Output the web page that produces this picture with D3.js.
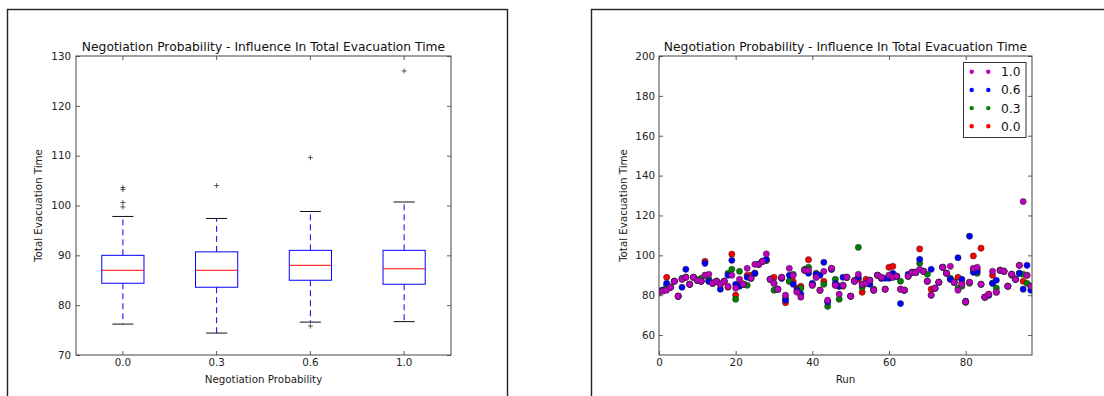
<!DOCTYPE html>
<html>
<head>
<meta charset="utf-8">
<script src="https://cdn.jsdelivr.net/npm/d3@7"></script>
<style>
  html, body { margin: 0; padding: 0; background: #fff; }
  svg { display: block; font-family: "DejaVu Sans", sans-serif; }
</style>
</head>
<body>
<div id="chart"></div>
<script>
// Box plot (left): stats
const boxCats = ["0.0", "0.3", "0.6", "1.0"];
const boxQ1 = [84.4, 83.6, 85.0, 84.2];
const boxMedian = [87.0, 87.0, 88.0, 87.3];
const boxQ3 = [90.0, 90.7, 91.0, 91.0];
const whiskerLow = [76.2, 74.4, 76.6, 76.7];
const whiskerHigh = [97.8, 97.4, 98.8, 100.7];
const fliers = [[103.6, 103.2, 100.6, 99.7], [104.0], [109.6, 75.8], [127.0]];
const boxYTicks = [70, 80, 90, 100, 110, 120, 130];

// Scatter (right): total evacuation time per run, one array per probability
const time00 = [82,82.5,89,84,87,79.5,88,89,85.5,89, 87.5,87,97,87,86,87,85.5,87,84,100.6,
  80,86,85.5,90,90,91,95.5,97,97.5,88, 89,83,88.5,76.2,87,87,83.5,84.5,92.5,97.8,
  85.5,89,82.5,87,77,93,85,84.5,84.5,89, 79.5,87.5,88,81.5,88,87.5,82.5,90,88.5,83,
  94,94.5,89.5,83,82.5,89.5,91.5,91.5,103.2,92, 87,83,83.5,86.5,94,91,88,86.5,89,86,
  76.5,86.5,99.7,93,103.6,79,80.5,90,81.5,92.5, 92,84.5,90.5,88,95,87,90,84.5];
const time03 = [82,82.5,85,84,87,79.5,88.5,89,85.5,89, 87.5,88.5,90,88,86,87,85.5,87,91,93,
  78,92,85.5,85,88.5,91,95.5,97,97.4,88, 82.5,83,89,78.5,87,90.5,82,83.5,93,94,
  85,91,82.5,85.5,74.4,93.5,88,78,85,89, 79.5,87,104,84,86,87.5,83,90,89,83,
  90,89,89.5,87,82.5,89.5,91.5,91.5,96,92, 90.5,80,83.5,86.5,94,91,88.5,86.5,83.5,84.5,
  76.5,86,93,91,85.5,79,80,86,83.5,92.5, 92,84.5,90,88,91,90.5,86,84.5];
const time06 = [82,82.5,86,84,87,79.5,84,93,85.5,89, 87.5,87,96,87,86,87,83,87,90,97.5,
  85.5,84.5,85.5,89,88.5,91,95.5,97,98,88, 86,83,88.5,77.5,90,85.5,82.5,80.5,92.5,91,
  86,90.5,90,96.5,76.6,93,86,84.5,89,89, 79.5,87,89,85.5,86,85.5,82.5,90,88.5,88.5,
  88.5,91,89.5,75.8,82.5,90.5,91.5,91.5,98,92, 87,93,83.5,86.5,94,91,88,86.5,98.8,88,
  77,109.6,91.5,92,85.5,79,80,86,87.5,92.5, 92,84.5,90.5,88,91,83,95,82.5];
const time10 = [81.5,82,82.5,84,87,79.5,88,89,85.5,89, 87.5,87,90,90.5,86,87,85.5,87,84.5,90,
  83.5,88,85.5,93.5,88.5,95.5,95.5,97,100.7,88, 86,83,89,80,93.5,90,81.5,79,92.5,92.5,
  85,89,82.5,92,77.5,93.5,85,80.5,85,89, 79.5,87,90.5,85.5,86,87.5,82.5,90,89,83,
  90,89,89.5,83,82.5,89.5,91.5,91.5,93,92, 87,80,83.5,86.5,94,91,94.5,86.5,82.5,85.5,
  76.7,86.5,93.5,94,85.5,79,80.5,92,81.5,92.5, 92,84.5,90.5,88,95,127,90,84.5];
const seriesNames = ["0.0", "0.3", "0.6", "1.0"];
const seriesColors = ["#ff0000", "#008000", "#0000ff", "#bf00bf"];
const legendOrder = ["1.0", "0.6", "0.3", "0.0"];
const runXTicks = [0, 20, 40, 60, 80];
const runYTicks = [60, 80, 100, 120, 140, 160, 180, 200];

const titleText = "Negotiation Probability - Influence In Total Evacuation Time";
const W = 1104, H = 396;
const tickFont = "10.3px", labelFont = "10.3px", titleFont = "12.3px";

const svg = d3.select("#chart").append("svg")
  .attr("width", W).attr("height", H);
svg.append("rect").attr("width", W).attr("height", H).attr("fill", "#fff");

// figure borders (both figures run past the bottom of the window)
svg.append("rect").attr("x", 7.5).attr("y", 9.5).attr("width", 500).attr("height", 420)
  .attr("fill", "none").attr("stroke", "#222").attr("stroke-width", 1.4);
svg.append("rect").attr("x", 591.5).attr("y", 9.5).attr("width", 600).attr("height", 420)
  .attr("fill", "none").attr("stroke", "#222").attr("stroke-width", 1.4);

// matplotlib-style frame: ticks inside on all four sides
function frame(g, w, h, xAxisFn, yAxisFn, yPad) {
  const tick = 4;
  const bottom = g.append("g").attr("transform", `translate(0,${h})`)
    .call(xAxisFn(d3.axisBottom).tickSize(-tick).tickPadding(4));
  const top = g.append("g")
    .call(xAxisFn(d3.axisTop).tickSize(-tick).tickFormat(""));
  const left = g.append("g")
    .call(yAxisFn(d3.axisLeft).tickSize(-tick).tickPadding(yPad));
  const right = g.append("g").attr("transform", `translate(${w},0)`)
    .call(yAxisFn(d3.axisRight).tickSize(-tick).tickFormat(""));
  [bottom, top, left, right].forEach(a => {
    a.select(".domain").remove();
    a.selectAll("line").attr("stroke", "#333").attr("stroke-width", 0.8);
    a.selectAll("text").attr("fill", "#222").style("font-size", tickFont)
      .style("font-family", "DejaVu Sans");
  });
  g.append("rect").attr("width", w).attr("height", h)
    .attr("fill", "none").attr("stroke", "#444").attr("stroke-width", 1);
}

function labels(g, w, h, xLabel, yLabel, yLabelX) {
  g.append("text").attr("x", w / 2).attr("y", -5.5)
    .attr("text-anchor", "middle").style("font-size", titleFont).attr("fill", "#111")
    .text(titleText);
  g.append("text").attr("x", w / 2).attr("y", h + 28)
    .attr("text-anchor", "middle").style("font-size", labelFont).attr("fill", "#222")
    .text(xLabel);
  g.append("text").attr("transform", `translate(${yLabelX},${h / 2}) rotate(-90)`)
    .attr("text-anchor", "middle").style("font-size", labelFont).attr("fill", "#222")
    .text(yLabel);
}

// ---------- left: box plot ----------
{
  const m = { left: 76, top: 56, w: 375, h: 299 };
  const g = svg.append("g").attr("transform", `translate(${m.left},${m.top})`);
  const x = d3.scaleBand().domain(boxCats).range([0, m.w]).padding(0);
  const y = d3.scaleLinear().domain([70, 130]).range([m.h, 0]);
  const bw = x.bandwidth() * 0.45;
  const cw = bw / 2;

  const boxes = g.selectAll(".box").data(boxCats).enter().append("g")
    .attr("transform", d => `translate(${x(d) + x.bandwidth() / 2},0)`);
  boxes.each(function (d, i) {
    const b = d3.select(this);
    // whiskers
    b.append("line").attr("x1", 0).attr("x2", 0)
      .attr("y1", y(boxQ3[i])).attr("y2", y(whiskerHigh[i]))
      .attr("stroke", "#0000ff").attr("stroke-width", 1).attr("stroke-dasharray", "6,4");
    b.append("line").attr("x1", 0).attr("x2", 0)
      .attr("y1", y(boxQ1[i])).attr("y2", y(whiskerLow[i]))
      .attr("stroke", "#0000ff").attr("stroke-width", 1).attr("stroke-dasharray", "6,4");
    // caps
    [whiskerLow[i], whiskerHigh[i]].forEach(v => {
      b.append("line").attr("x1", -cw / 2).attr("x2", cw / 2)
        .attr("y1", y(v)).attr("y2", y(v))
        .attr("stroke", "#111").attr("stroke-width", 1);
    });
    // box
    b.append("rect").attr("x", -bw / 2).attr("width", bw)
      .attr("y", y(boxQ3[i])).attr("height", y(boxQ1[i]) - y(boxQ3[i]))
      .attr("fill", "none").attr("stroke", "#0000ff").attr("stroke-width", 1);
    // median
    b.append("line").attr("x1", -bw / 2).attr("x2", bw / 2)
      .attr("y1", y(boxMedian[i])).attr("y2", y(boxMedian[i]))
      .attr("stroke", "#ff0000").attr("stroke-width", 1);
    // fliers
    fliers[i].forEach(v => {
      b.append("path").attr("d", `M-2.5,${y(v)}h5M0,${y(v) - 2.5}v5`)
        .attr("stroke", "#333").attr("stroke-width", 0.8);
    });
  });

  frame(g, m.w, m.h, fn => fn(x), fn => fn(y).tickValues(boxYTicks), 5);
  labels(g, m.w, m.h, "Negotiation Probability", "Total Evacuation Time", -34);
}

// ---------- right: scatter ----------
{
  const m = { left: 659, top: 56, w: 373, h: 299 };
  const g = svg.append("g").attr("transform", `translate(${m.left},${m.top})`);
  const x = d3.scaleLinear().domain([0, 97.3]).range([0, m.w]);
  const y = d3.scaleLinear().domain([50, 200]).range([m.h, 0]);

  g.append("clipPath").attr("id", "clip")
    .append("rect").attr("width", m.w).attr("height", m.h);
  const plot = g.append("g").attr("clip-path", "url(#clip)");

  const allSeries = [time00, time03, time06, time10];
  allSeries.forEach((vals, si) => {
    plot.append("g").selectAll("circle").data(vals).enter().append("circle")
      .attr("cx", (d, i) => x(i)).attr("cy", d => y(d)).attr("r", 3.1)
      .attr("fill", seriesColors[si]).attr("stroke", "#222").attr("stroke-width", 0.5);
  });

  frame(g, m.w, m.h,
    fn => fn(x).tickValues(runXTicks).tickFormat(d3.format("d")),
    fn => fn(y).tickValues(runYTicks), 4);
  labels(g, m.w, m.h, "Run", "Total Evacuation Time", -32);

  // legend
  const lg = g.append("g").attr("transform", `translate(${963.5 - m.left},${62.5 - m.top})`);
  lg.append("rect").attr("width", 62.5).attr("height", 75)
    .attr("fill", "#fff").attr("stroke", "#333").attr("stroke-width", 1);
  legendOrder.forEach((name, i) => {
    const si = seriesNames.indexOf(name);
    const ry = 9.2 + i * 18.2;
    [8.2, 24.8].forEach(cx => {
      lg.append("circle").attr("cx", cx).attr("cy", ry).attr("r", 2.2)
        .attr("fill", seriesColors[si]);
    });
    lg.append("text").attr("x", 37.5).attr("y", ry).attr("dy", "0.36em")
      .style("font-size", titleFont).attr("fill", "#111").text(name);
  });
}
</script>
</body>
</html>
